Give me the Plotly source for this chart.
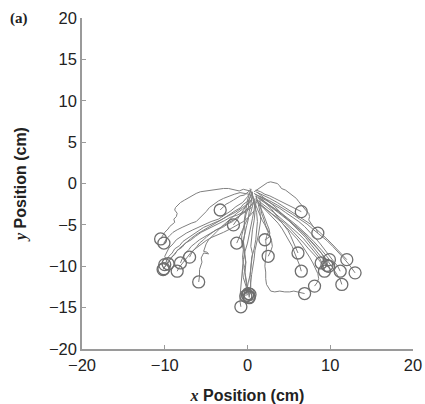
import plotly.graph_objects as go

# Trajectories (x, y in cm); each ends at its target circle
traj_x = [
    [0.6, 0.3, 0.1, -0.5, -0.8, -1.5, -1.9, -2.7, -3.2, -4.0, -4.6, -5.3, -5.9, -6.6, -7.1, -7.8, -8.2, -8.8, -9.1, -9.5, -9.7, -10.0],
    [0.9, 0.6, 0.2, -0.4, -1.2, -2.1, -2.8, -3.4, -4.1, -4.9, -5.6, -6.3, -6.8, -7.5, -7.9, -8.5, -8.8, -9.3, -9.5, -9.9, -10.1],
    [0.4, 0.0, -0.6, -1.4, -2.0, -2.8, -3.5, -4.4, -5.1, -5.8, -6.6, -7.4, -8.0, -8.6, -9.0, -9.5, -9.8, -10.0, -9.9, -9.6],
    [0.3, 0.0, -0.5, -1.0, -1.6, -2.3, -2.9, -3.6, -4.3, -5.0, -5.7, -6.2, -6.6, -7.2, -7.6, -8.1, -8.4, -8.7, -8.8, -8.5, -8.6, -8.9, -8.8, -9.4, -9.6, -10.0, -10.5],
    [0.2, -0.3, -0.9, -1.6, -2.2, -2.9, -3.5, -4.1, -4.6, -5.0, -5.5, -5.8, -6.2, -6.8, -7.3, -7.9, -8.5, -9.0, -9.4, -9.8, -10.1],
    [0.7, 0.2, -0.4, -1.1, -1.8, -2.4, -3.0, -3.8, -4.4, -4.9, -5.3, -5.8, -6.1, -6.5, -6.7, -7.0],
    [0.5, -0.2, -0.9, -1.7, -2.4, -3.1, -3.8, -4.5, -5.2, -5.8, -6.3, -6.8, -7.1, -7.5, -7.8, -8.1],
    [0.8, 0.2, -0.5, -1.3, -2.1, -2.9, -3.6, -4.3, -5.0, -5.6, -6.2, -6.8, -7.2, -7.6, -7.9, -8.3, -8.5],
    [0.6, 0.0, -0.6, -1.3, -1.9, -2.5, -3.1, -3.7, -4.2, -4.7, -5.0, -5.2, -5.3, -4.9, -4.7, -5.3, -5.6, -5.5, -5.7, -5.8, -5.8, -5.9],
    [0.5, 0.1, -0.4, -0.9, -1.3, -1.7, -2.2, -2.6, -2.9, -3.3],
    [0.6, 0.5, 0.4, 0.2, 0.1, -0.1, -0.3, -0.5, -0.4, -0.3, -0.2, -0.4, -0.3, -0.2, -0.1, 0.1, 0.0],
    [1.1, 1.0, 0.9, 0.8, 0.6, 0.5, 0.4, 0.6, 0.5, 0.4, 0.3, 0.1, 0.0, -0.1, -0.2],
    [0.2, 0.1, -0.2, -0.3, -0.5, -0.7, -0.7, -0.5, -0.6, -0.5, -0.6, -0.5, -0.3, -0.1, 0.1],
    [0.9, 0.8, 0.6, 0.4, 0.2, 0.0, -0.3, -0.5, -0.6, -0.7, -0.8, -0.8, -0.9, -0.9, -0.8],
    [1.3, 1.5, 1.6, 1.5, 1.3, 1.1, 0.9, 0.8, 0.6, 0.5, 0.4, 0.3, 0.2],
    [0.3, 0.6, 0.8, 1.1, 1.2, 1.1, 1.0, 0.8, 0.5, 0.4, 0.3, 0.4, 0.3],
    [0.5, 0.3, 0.1, -0.2, -0.6, -0.9, -1.2, -1.5, -1.7],
    [0.8, 0.6, 0.4, 0.1, -0.2, -0.4, -0.6, -0.8, -1.0, -1.1, -1.3],
    [1.0, 1.2, 1.5, 1.8, 2.0, 2.2, 2.4, 2.6, 2.7, 2.6, 2.1],
    [1.5, 1.6, 1.7, 2.0, 2.2, 2.5, 2.7, 2.9, 3.0, 2.8, 2.5],
    [0.5, 0.7, 0.9, 1.2, 1.5, 1.8, 2.1, 2.3, 2.5, 2.3, 2.2, 2.3, 2.2, 2.2, 2.1, 2.2, 2.2, 2.3, 2.8, 3.3, 3.9, 4.5, 5.1, 5.6, 6.0, 6.5, 6.9],
    [0.8, 1.2, 1.6, 2.0, 2.4, 2.8, 3.2, 3.6, 3.9, 4.1, 4.6, 5.0, 5.3, 5.5, 5.9, 6.2, 6.5, 6.9, 7.1, 7.4, 7.5, 7.4, 7.6, 7.9, 8.0, 8.3, 8.5],
    [1.0, 1.6, 2.1, 2.7, 3.3, 3.9, 4.4, 5.0, 5.5, 6.0, 6.5],
    [1.5, 1.9, 2.4, 2.9, 3.3, 3.7, 4.1, 4.5, 4.9, 5.2, 5.5, 5.8, 6.1],
    [1.2, 1.8, 2.5, 3.2, 3.8, 4.4, 5.0, 5.6, 6.2, 6.8, 7.3, 7.8, 8.3, 8.7, 9.0, 9.2, 9.3],
    [1.0, 1.8, 2.6, 3.4, 4.1, 4.8, 5.5, 6.1, 6.8, 7.4, 8.0, 8.5, 9.0, 9.5, 9.9],
    [0.8, 1.5, 2.3, 3.1, 3.9, 4.6, 5.4, 6.2, 6.9, 7.6, 8.2, 8.8, 9.3, 9.9, 10.4, 10.9, 11.2],
    [1.0, 1.9, 2.7, 3.6, 4.4, 5.2, 6.0, 6.8, 7.6, 8.3, 9.0, 9.6, 10.2, 10.7, 11.2, 11.7, 12.0],
    [1.3, 2.1, 2.9, 3.7, 4.5, 5.3, 6.0, 6.7, 7.4, 8.0, 8.6, 9.2, 9.8, 10.3, 10.8, 11.2, 11.4],
    [1.0, 1.7, 2.5, 3.3, 4.0, 4.7, 5.4, 6.0, 6.6, 7.1, 7.5, 7.9, 8.2, 8.5, 8.6, 8.4, 8.1],
    [0.9, 1.8, 2.7, 3.6, 4.5, 5.4, 6.3, 7.2, 8.0, 8.8, 9.6, 10.3, 11.0, 11.6, 12.2, 12.6, 13.0],
    [1.5, 2.0, 2.6, 3.2, 3.7, 4.2, 4.6, 5.0, 5.4, 5.7, 6.0, 6.3, 6.5],
    [1.0, 1.7, 2.4, 3.1, 3.8, 4.5, 5.1, 5.7, 6.3, 6.8, 7.3, 7.8, 8.2, 8.6, 8.9],
    [1.4, 2.2, 3.0, 3.8, 4.5, 5.2, 5.9, 6.6, 7.2, 7.8, 8.4, 8.9, 9.3, 9.5, 9.6],
    [0.7, 0.2, -0.6, -1.5, -2.5, -3.4, -4.3, -5.2, -6.1, -6.9, -7.6, -8.3, -8.9, -9.4, -9.8, -10.2],
    [0.4, 0.0, -0.2, -0.4, -0.3, -0.5, -0.4, -0.2, -0.3, -0.1, 0.0, 0.2],
    [1.2, 1.9, 2.6, 3.3, 4.0, 4.8, 5.5, 6.3, 7.0, 7.7, 8.4, 9.0, 9.5, 9.8],
]
traj_y = [
    [-1.2, -1.7, -2.1, -2.5, -2.9, -3.3, -3.6, -4.1, -4.4, -4.7, -5.0, -5.3, -5.7, -6.2, -6.6, -7.0, -7.5, -7.9, -8.4, -8.8, -9.2, -9.8],
    [-1.8, -2.4, -2.9, -3.4, -3.8, -4.1, -4.5, -4.8, -5.2, -5.5, -5.9, -6.4, -6.8, -7.2, -7.7, -8.1, -8.6, -9.0, -9.5, -9.9, -10.3],
    [-0.9, -1.6, -2.3, -2.8, -3.3, -3.8, -4.3, -4.6, -4.9, -5.2, -5.6, -6.0, -6.4, -6.8, -7.3, -7.8, -8.4, -8.8, -9.1, -9.7],
    [-0.9, -0.8, -0.7, -0.9, -0.8, -0.6, -0.6, -0.7, -0.8, -0.9, -1.0, -1.2, -1.4, -1.7, -2.0, -2.3, -2.6, -2.9, -3.2, -3.6, -4.0, -4.3, -4.7, -5.2, -5.5, -5.9, -6.7],
    [-1.3, -1.2, -1.1, -1.3, -1.5, -1.8, -2.1, -2.5, -2.9, -3.4, -3.9, -4.3, -4.6, -4.8, -5.0, -5.3, -5.6, -5.9, -6.3, -6.7, -7.2],
    [-2.4, -2.9, -3.4, -4.0, -4.6, -4.9, -5.3, -5.6, -6.0, -6.4, -6.8, -7.2, -7.6, -8.0, -8.3, -8.9],
    [-2.9, -3.4, -3.9, -4.4, -4.8, -5.2, -5.6, -6.0, -6.4, -6.8, -7.2, -7.6, -8.0, -8.4, -8.9, -9.6],
    [-3.3, -4.0, -4.6, -5.1, -5.5, -5.9, -6.2, -6.5, -6.9, -7.3, -7.8, -8.3, -8.8, -9.3, -9.8, -10.2, -10.6],
    [-2.0, -2.6, -3.1, -3.6, -4.1, -4.7, -5.2, -5.8, -6.3, -6.8, -7.3, -7.8, -8.2, -8.3, -8.5, -8.4, -9.0, -9.5, -10.0, -10.4, -11.2, -11.9],
    [-0.7, -1.0, -1.4, -1.5, -1.8, -2.0, -2.3, -2.5, -2.8, -3.2],
    [-1.0, -1.8, -2.6, -3.4, -4.3, -5.1, -6.0, -6.9, -7.8, -8.6, -9.5, -10.2, -11.0, -11.7, -12.4, -13.0, -13.5],
    [-1.5, -2.5, -3.5, -4.5, -5.6, -6.6, -7.6, -8.5, -9.3, -10.2, -11.1, -11.9, -12.6, -13.1, -13.6],
    [-2.0, -2.9, -3.8, -4.6, -5.5, -6.3, -7.2, -8.0, -8.9, -9.7, -10.6, -11.4, -12.1, -12.8, -13.3],
    [-2.2, -3.2, -4.2, -5.2, -6.3, -7.2, -8.2, -9.2, -10.2, -11.1, -12.0, -12.8, -13.6, -14.3, -14.9],
    [-2.5, -3.4, -4.4, -5.3, -6.3, -7.2, -8.1, -9.1, -10.1, -11.0, -12.0, -12.9, -13.8],
    [-0.6, -1.5, -2.5, -3.5, -4.6, -5.7, -6.8, -7.9, -9.0, -10.2, -11.4, -12.4, -13.4],
    [-1.0, -1.7, -2.3, -2.8, -3.3, -3.8, -4.3, -4.7, -5.0],
    [-2.0, -2.8, -3.5, -4.1, -4.6, -5.1, -5.6, -6.1, -6.6, -6.9, -7.2],
    [-1.5, -2.1, -2.8, -3.4, -4.0, -4.5, -5.0, -5.5, -6.0, -6.5, -6.8],
    [-2.0, -2.8, -3.6, -4.4, -5.1, -5.7, -6.3, -6.9, -7.6, -8.2, -8.8],
    [-1.0, -1.7, -2.4, -3.1, -3.9, -4.5, -5.0, -5.4, -5.9, -6.4, -7.0, -7.7, -8.5, -9.2, -10.0, -10.7, -11.5, -12.2, -13.0, -13.1, -13.0, -13.1, -13.1, -13.0, -13.1, -13.2, -13.3],
    [-1.0, -0.7, -0.4, -0.1, 0.1, 0.2, 0.1, 0.0, -0.3, -0.6, -0.8, -1.1, -1.3, -1.5, -1.8, -2.2, -2.6, -3.0, -3.3, -3.6, -4.0, -4.4, -4.7, -5.0, -5.3, -5.5, -6.0],
    [-0.8, -1.0, -1.3, -1.5, -1.8, -2.1, -2.4, -2.6, -2.9, -3.1, -3.4],
    [-1.5, -2.0, -2.6, -3.1, -3.6, -4.1, -4.6, -5.2, -5.7, -6.3, -7.0, -7.7, -8.4],
    [-2.0, -2.5, -3.0, -3.5, -4.0, -4.5, -5.0, -5.5, -6.1, -6.7, -7.3, -7.9, -8.5, -9.0, -9.6, -10.1, -10.6],
    [-1.5, -2.0, -2.6, -3.1, -3.6, -4.1, -4.7, -5.2, -5.8, -6.4, -7.0, -7.5, -8.1, -8.7, -9.2],
    [-1.2, -1.6, -2.0, -2.5, -3.0, -3.5, -4.0, -4.6, -5.2, -5.9, -6.6, -7.3, -8.0, -8.7, -9.4, -10.0, -10.6],
    [-1.0, -1.4, -1.8, -2.3, -2.8, -3.3, -3.8, -4.3, -4.9, -5.5, -6.1, -6.7, -7.3, -7.8, -8.3, -8.8, -9.2],
    [-1.8, -2.3, -2.9, -3.5, -4.1, -4.7, -5.3, -5.9, -6.6, -7.3, -8.0, -8.7, -9.5, -10.2, -10.9, -11.6, -12.2],
    [-2.0, -2.6, -3.3, -3.9, -4.6, -5.3, -6.0, -6.7, -7.5, -8.2, -8.9, -9.6, -10.3, -10.9, -11.5, -12.0, -12.4],
    [-1.3, -1.7, -2.1, -2.6, -3.1, -3.7, -4.3, -4.9, -5.6, -6.2, -6.9, -7.6, -8.3, -9.0, -9.7, -10.3, -10.8],
    [-2.5, -3.0, -3.6, -4.2, -4.8, -5.5, -6.2, -6.9, -7.6, -8.4, -9.1, -9.9, -10.6],
    [-2.2, -2.7, -3.2, -3.7, -4.3, -4.8, -5.4, -6.0, -6.6, -7.2, -7.8, -8.3, -8.8, -9.2, -9.6],
    [-1.7, -2.3, -2.9, -3.4, -4.0, -4.6, -5.2, -5.9, -6.5, -7.2, -7.8, -8.4, -9.0, -9.5, -9.9],
    [-1.6, -2.3, -2.9, -3.5, -4.0, -4.5, -5.0, -5.5, -6.1, -6.7, -7.3, -7.9, -8.6, -9.2, -9.8, -10.4],
    [-0.8, -2.0, -3.2, -4.5, -5.8, -7.1, -8.4, -9.6, -10.8, -11.9, -12.8, -13.7],
    [-1.1, -1.6, -2.2, -2.8, -3.5, -4.2, -4.9, -5.7, -6.5, -7.4, -8.3, -9.1, -9.6, -10.0],
]

x_ticks = [-20, -10, 0, 10, 20]
y_ticks = [-20, -15, -10, -5, 0, 5, 10, 15, 20]

fig = go.Figure()
for xs, ys in zip(traj_x, traj_y):
    fig.add_trace(go.Scatter(x=xs, y=ys, mode="lines",
                             line=dict(color="#808080", width=1),
                             showlegend=False, hoverinfo="skip"))

fig.add_trace(go.Scatter(
    x=[t[-1] for t in traj_x], y=[t[-1] for t in traj_y], mode="markers",
    marker=dict(symbol="circle-open", size=12, color="#6e6e6e", line=dict(width=1.3)),
    showlegend=False, hoverinfo="skip"))

axis_common = dict(
    showgrid=False, zeroline=False, showline=True, linecolor="#9a9a9a", linewidth=1.5,
    ticks="inside", ticklen=4, tickcolor="#9a9a9a",
    tickfont=dict(family="Arial", size=16.5, color="#222222"),
)
fig.update_xaxes(range=[-20, 20], tickvals=x_ticks, **axis_common,
                 title=dict(text='<b><span style="font-family:Liberation Serif"><i>x</i></span> Position (cm)</b>',
                            font=dict(family="Arial", size=16, color="#222222"),
                            standoff=20))
fig.update_yaxes(range=[-20, 20], tickvals=y_ticks, **axis_common,
                 title=dict(text='<b><span style="font-family:Liberation Serif"><i>y</i></span> Position (cm)</b>',
                            font=dict(family="Arial", size=16, color="#222222"),
                            standoff=18))
fig.update_layout(
    width=425, height=404,
    margin=dict(l=82, r=12, t=18, b=55, autoexpand=False),
    plot_bgcolor="white", paper_bgcolor="white",
    font=dict(family="Arial", color="#222222"),
    annotations=[dict(text="<b>(a)</b>", x=-0.19, y=1.0, xref="paper", yref="paper",
                      xanchor="center", yanchor="middle", showarrow=False,
                      font=dict(family="Liberation Serif", size=15, color="#222222"))],
)
fig.write_html("out.html", config={"displayModeBar": False},
               post_script="document.body.style.margin='0px';")
